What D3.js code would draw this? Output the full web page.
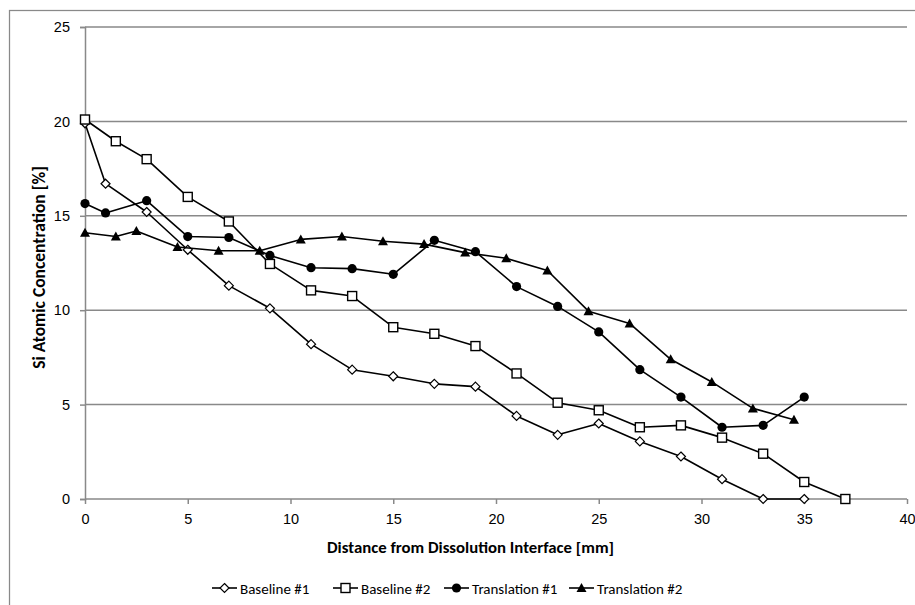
<!DOCTYPE html>
<html>
<head>
<meta charset="utf-8">
<script src="https://cdn.jsdelivr.net/npm/d3@7"></script>
<style>
  html, body { margin: 0; padding: 0; background: #fff; }
  svg { display: block; font-family: Carlito, Lato, "Open Sans", sans-serif; }
</style>
</head>
<body>
<svg id="chart" width="915" height="605"></svg>
<script>
// Si concentration profiles vs distance from the dissolution interface
const baseline1X = [0, 1, 3, 5, 7, 9, 11, 13, 15, 17, 19, 21, 23, 25, 27, 29, 31, 33, 35];
const baseline1Y = [19.9, 16.7, 15.2, 13.2, 11.3, 10.1, 8.2, 6.85, 6.5, 6.1, 5.95, 4.4, 3.4, 4.0, 3.05, 2.25, 1.05, 0, 0];

const baseline2X = [0, 1.5, 3, 5, 7, 9, 11, 13, 15, 17, 19, 21, 23, 25, 27, 29, 31, 33, 35, 37];
const baseline2Y = [20.1, 18.95, 18.0, 16.0, 14.7, 12.45, 11.05, 10.75, 9.1, 8.75, 8.1, 6.65, 5.1, 4.7, 3.8, 3.9, 3.25, 2.4, 0.9, 0];

const translation1X = [0, 1, 3, 5, 7, 9, 11, 13, 15, 17, 19, 21, 23, 25, 27, 29, 31, 33, 35];
const translation1Y = [15.65, 15.15, 15.8, 13.9, 13.85, 12.9, 12.25, 12.2, 11.9, 13.7, 13.1, 11.25, 10.2, 8.85, 6.85, 5.4, 3.8, 3.9, 5.4];

const translation2X = [0, 1.5, 2.5, 4.5, 6.5, 8.5, 10.5, 12.5, 14.5, 16.5, 18.5, 20.5, 22.5, 24.5, 26.5, 28.5, 30.5, 32.5, 34.5];
const translation2Y = [14.1, 13.9, 14.2, 13.35, 13.15, 13.15, 13.75, 13.9, 13.65, 13.5, 13.05, 12.75, 12.1, 9.95, 9.3, 7.4, 6.2, 4.8, 4.2];

const seriesNames = ["Baseline #1", "Baseline #2", "Translation #1", "Translation #2"];
const markerKinds = ["diamond", "square", "circle", "triangle"];
const xTicks = [0, 5, 10, 15, 20, 25, 30, 35, 40];
const yTicks = [0, 5, 10, 15, 20, 25];
const xTitle = "Distance from Dissolution Interface [mm]";
const yTitle = "Si Atomic Concentration [%]";

const series = [
  { name: seriesNames[0], kind: markerKinds[0], pts: baseline1X.map((x, i) => [x, baseline1Y[i]]) },
  { name: seriesNames[1], kind: markerKinds[1], pts: baseline2X.map((x, i) => [x, baseline2Y[i]]) },
  { name: seriesNames[2], kind: markerKinds[2], pts: translation1X.map((x, i) => [x, translation1Y[i]]) },
  { name: seriesNames[3], kind: markerKinds[3], pts: translation2X.map((x, i) => [x, translation2Y[i]]) }
];

const svg = d3.select("#chart");
const gridColor = "#898989";

// outer chart frame
svg.append("rect")
  .attr("x", 9.5).attr("y", 10.5)
  .attr("width", 1000).attr("height", 1000)
  .attr("fill", "none").attr("stroke", gridColor).attr("stroke-width", 1.25);

const plot = { left: 85, right: 907, top: 27, bottom: 499 };
const x = d3.scaleLinear().domain([0, 40]).range([plot.left, plot.right]);
const y = d3.scaleLinear().domain([0, 25]).range([plot.bottom, plot.top]);

// horizontal gridlines
svg.append("g")
  .selectAll("line")
  .data(yTicks.filter(v => v > 0))
  .join("line")
  .attr("x1", plot.left).attr("x2", plot.right)
  .attr("y1", d => y(d)).attr("y2", d => y(d))
  .attr("stroke", gridColor).attr("stroke-width", 1.5);

// y axis
const yAxis = svg.append("g")
  .attr("transform", `translate(${plot.left},0)`)
  .call(d3.axisLeft(y).tickValues(yTicks).tickSize(5).tickPadding(10).tickFormat(d3.format("d")));
yAxis.select(".domain").attr("stroke", gridColor).attr("stroke-width", 1.5);
yAxis.selectAll(".tick line").attr("stroke", gridColor).attr("stroke-width", 1.5);
yAxis.selectAll("text").attr("font-size", 14.5).attr("fill", "#000").attr("font-family", null);

// x axis
const xAxis = svg.append("g")
  .attr("transform", `translate(0,${plot.bottom})`)
  .call(d3.axisBottom(x).tickValues(xTicks).tickSize(5).tickPadding(10).tickFormat(d3.format("d")));
xAxis.select(".domain").attr("stroke", gridColor).attr("stroke-width", 1.5)
  .attr("d", `M${plot.left},0H${plot.right}`);
xAxis.selectAll(".tick line").attr("stroke", gridColor).attr("stroke-width", 1.5);
xAxis.selectAll("text").attr("font-size", 14.5).attr("fill", "#000").attr("font-family", null);

// axis titles
svg.append("text")
  .attr("x", 470.5).attr("y", 553)
  .attr("text-anchor", "middle").attr("font-size", 16.8).attr("font-weight", "bold")
  .text(xTitle);

svg.append("text")
  .attr("transform", `translate(45,267.5) rotate(-90)`)
  .attr("text-anchor", "middle").attr("font-size", 17.5).attr("font-weight", "bold")
  .text(yTitle);

// marker shapes
function drawMarker(g, kind, cx, cy) {
  if (kind === "diamond") {
    g.append("path")
      .attr("d", `M${cx},${cy - 4.5}L${cx + 4.5},${cy}L${cx},${cy + 4.5}L${cx - 4.5},${cy}Z`)
      .attr("fill", "#fff").attr("stroke", "#000").attr("stroke-width", 1.2);
  } else if (kind === "square") {
    g.append("rect")
      .attr("x", cx - 4.5).attr("y", cy - 4.5).attr("width", 9).attr("height", 9)
      .attr("fill", "#fff").attr("stroke", "#000").attr("stroke-width", 1.4);
  } else if (kind === "circle") {
    g.append("circle").attr("cx", cx).attr("cy", cy).attr("r", 4.6).attr("fill", "#000");
  } else {
    g.append("path")
      .attr("d", `M${cx},${cy - 5}L${cx + 5},${cy + 4}L${cx - 5},${cy + 4}Z`)
      .attr("fill", "#000");
  }
}

const line = d3.line().x(d => x(d[0])).y(d => y(d[1]));

series.forEach(s => {
  const g = svg.append("g");
  g.append("path").attr("d", line(s.pts))
    .attr("fill", "none").attr("stroke", "#000").attr("stroke-width", 1.6)
    .attr("stroke-linejoin", "round");
  s.pts.forEach(p => drawMarker(g, s.kind, x(p[0]), y(p[1])));
});

// legend
const legendX = [212, 333, 444, 569];
const legendY = 588;
series.forEach((s, i) => {
  const g = svg.append("g");
  g.append("line")
    .attr("x1", legendX[i]).attr("x2", legendX[i] + 25)
    .attr("y1", legendY).attr("y2", legendY)
    .attr("stroke", "#000").attr("stroke-width", 1.6);
  drawMarker(g, s.kind, legendX[i] + 12.5, legendY);
  g.append("text")
    .attr("x", legendX[i] + 28).attr("y", legendY + 5.5)
    .attr("font-size", 15).text(s.name);
});
</script>
</body>
</html>
